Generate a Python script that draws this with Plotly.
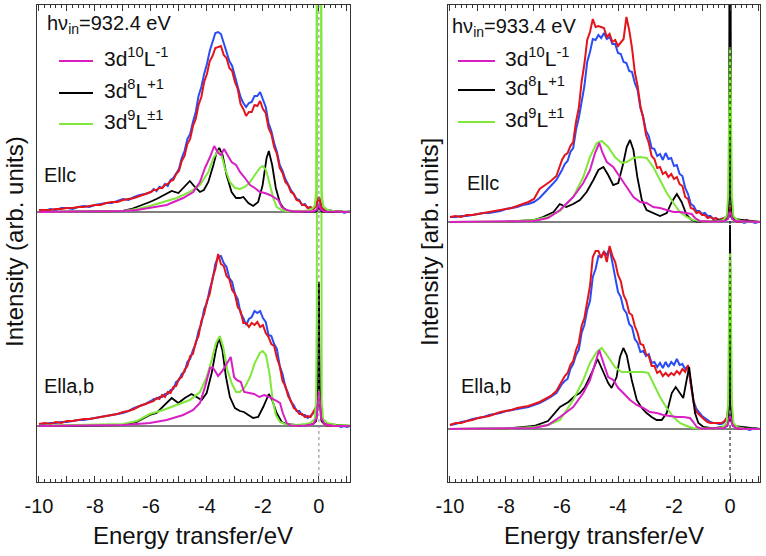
import numpy as np
import plotly.graph_objects as go

# ---------------- experimental energy grid (eV) ----------------
E_EXP = np.round(np.concatenate([np.arange(-10.0, -6.05, 0.2), np.arange(-6.0, 1.15, 0.1)]), 2)

# ---------------- LEFT panel (hv_in = 932.4 eV) ----------------
# Ellc experimental (blue / red)
LC_BLUE = ([2, 1, 3, 2, 4, 4, 3, 5, 6, 5, 7, 8, 9, 9, 11, 13, 12, 15, 17, 18] +
           [20, 23, 21, 25, 24, 28, 26, 32, 34, 38,
            43, 54, 61, 73, 78, 90, 100, 116, 125, 138,
            148, 161, 169, 179, 180, 178, 169, 161, 151, 146,
            136, 127, 115, 109, 105, 109, 110, 116, 116, 120,
            113, 105, 89, 81, 69, 60, 47, 41, 33, 27,
            22, 18, 13, 12, 7, 8, 4, 5, 3, 6,
            15, 4, 2, 1, 2, 0, 1, 0, 1, -1, 0, 1])
LC_RED = ([2, 2, 2, 3, 3, 4, 4, 5, 5, 6, 7, 7, 9, 10, 10, 12, 13, 14, 16, 18] +
          [20, 22, 22, 24, 24, 27, 28, 31, 32, 38,
           41, 51, 56, 68, 73, 86, 93, 107, 115, 130,
           138, 151, 156, 164, 165, 166, 157, 154, 144, 141,
           130, 123, 108, 103, 96, 100, 100, 107, 106, 111,
           103, 99, 84, 78, 65, 58, 44, 39, 30, 27,
           20, 18, 12, 11, 7, 7, 4, 5, 3, 6,
           15, 4, 2, 1, 0, 1, 0, 1, 0, 0, 0, 0])
# Ella,b experimental
LA_BLUE = ([2, 2, 3, 3, 4, 4, 5, 6, 6, 7, 8, 9, 10, 11, 12, 13, 15, 18, 20, 22] +
           [25, 27, 27, 29, 29, 32, 32, 36, 37, 44,
            46, 52, 54, 64, 67, 76, 82, 95, 102, 117,
            123, 137, 146, 162, 169, 170, 163, 159, 148, 144,
            132, 127, 113, 108, 101, 107, 109, 115, 113, 115,
            108, 104, 91, 90, 82, 77, 60, 52, 39, 33,
            24, 21, 15, 15, 11, 11, 8, 10, 13, 19,
            40, 6, 2, 1, 0, 1, 0, 0, -1, 0, -1, 0])
LA_RED = ([2, 3, 2, 4, 3, 5, 5, 6, 7, 7, 8, 9, 10, 11, 12, 14, 15, 17, 20, 22] +
          [24, 25, 28, 27, 31, 29, 34, 33, 39, 40,
           47, 49, 56, 60, 70, 72, 84, 90, 105, 112,
           125, 132, 148, 157, 172, 162, 160, 150, 147, 136,
           132, 119, 115, 103, 103, 99, 103, 101, 104, 99,
           101, 93, 89, 82, 80, 68, 60, 45, 40, 30,
           25, 18, 16, 12, 12, 9, 10, 9, 14, 19,
           38, 5, 2, 0, 1, 0, 0, 1, 0, 0, 0, 0])

# Ellc calculations
LC_MAG_E = [-10, -8, -7, -6.5, -6.04, -5.44, -4.85, -4.49, -4.25, -4.07, -3.89, -3.74, -3.6, -3.5,
            -3.39, -3.24, -3.12, -2.96, -2.82, -2.64, -2.46, -2.29, -2.11, -1.93, -1.75, -1.57, -1.45,
            -1.33, -1.15, -0.92, -0.5, -0.2, -0.08, -0.03, 0, 0.03, 0.08, 0.2, 0.5, 1.1]
LC_MAG_I = [0, 0.3, 1, 2, 4, 7, 14, 20, 30, 44, 55, 66, 59, 57,
            63, 55, 50, 47, 40, 34, 27, 24, 20, 19, 17, 14, 12,
            5, 2, 0.5, 0.2, 0.5, 2, 5, 8, 5, 2, 0.5, 0.2, 0]
LC_BLK_E = [-10, -8, -7, -6.7, -6.4, -6.04, -5.8, -5.6, -5.26, -5.02, -4.8, -4.61, -4.43, -4.25, -4.11,
            -3.95, -3.77, -3.65, -3.56, -3.44, -3.3, -3.12, -2.96, -2.82, -2.7, -2.52, -2.35, -2.17,
            -2.01, -1.87, -1.79, -1.67, -1.54, -1.39, -1.27, -1.1, -0.7, -0.1, -0.03, 0, 0.03, 0.1, 1.1]
LC_BLK_I = [0, 0.2, 1, 3, 6, 10, 13, 16, 21, 19, 25, 31, 25, 20, 22,
            30, 47, 60, 64, 57, 37, 20, 14, 14, 15, 9, 6, 10,
            27, 54, 61, 47, 24, 9, 4, 1, 0.3, 0.5, 3, 8, 3, 0.5, 0]
LC_GRN_E = [-10, -8, -7, -6.5, -6.04, -5.56, -5.08, -4.61, -4.25, -3.95, -3.77, -3.6, -3.48, -3.36,
            -3.18, -3.0, -2.82, -2.64, -2.46, -2.29, -2.11, -2.01, -1.89, -1.75, -1.63, -1.51, -1.33,
            -1.15, -0.6, -0.3, -0.15, -0.1, -0.075, -0.06, 0, 0.06, 0.075, 0.1, 0.15, 0.3, 0.6, 1.1]
LC_GRN_I = [0, 0.3, 1, 3, 6, 10, 14, 20, 27, 40, 54, 61, 57, 44,
            30, 24, 23, 25, 30, 37, 44, 46, 42, 27, 14, 5, 2,
            0.8, 0.8, 2, 6, 20, 100, 500, 1000, 500, 100, 20, 6, 2, 0.8, 0.3]

# Ella,b calculations
LA_MAG_E = [-10, -8, -7, -6.5, -6.04, -5.44, -4.85, -4.49, -4.25, -4.07, -3.89, -3.8, -3.68, -3.6,
            -3.45, -3.3, -3.15, -3.03, -2.94, -2.79, -2.67, -2.49, -2.31, -2.13, -1.95, -1.77, -1.58,
            -1.39, -1.29, -1.15, -1.0, -0.5, -0.2, -0.08, -0.03, 0, 0.03, 0.08, 0.2, 0.5, 1.1]
LA_MAG_I = [0, 0.3, 1, 2, 3, 6, 11, 16, 23, 39, 58, 59, 53, 50,
            55, 62, 69, 49, 46, 44, 34, 33, 32, 29, 31, 29, 26,
            23, 13, 3, 0.5, 0.3, 2, 8, 25, 35, 25, 8, 2, 0.3, 0]
LA_BLK_E = [-10, -8, -7, -6.5, -6.04, -5.8, -5.5, -5.26, -5.02, -4.79, -4.55, -4.37, -4.19, -4.01,
            -3.83, -3.68, -3.57, -3.45, -3.32, -3.18, -3.0, -2.82, -2.68, -2.52, -2.35, -2.17, -1.99,
            -1.79, -1.67, -1.51, -1.33, -1.15, -0.7, -0.2, -0.1, -0.04, -0.015, 0, 0.015, 0.04, 0.1, 0.2, 1.1]
LA_BLK_I = [0, 0.2, 1, 4, 11, 13, 21, 28, 23, 28, 32, 29, 26, 33,
            53, 76, 88, 76, 49, 29, 18, 15, 14, 11, 8, 9, 19,
            32, 26, 13, 4, 2, 0.5, 2, 5, 20, 80, 144, 80, 20, 5, 2, 0]
LA_GRN_E = [-10, -8, -7, -6.5, -6.04, -5.56, -5.08, -4.61, -4.25, -4.01, -3.83, -3.68, -3.54, -3.42,
            -3.27, -3.12, -2.96, -2.82, -2.64, -2.46, -2.29, -2.11, -2.01, -1.89, -1.77, -1.65, -1.54,
            -1.39, -1.21, -0.8, -0.5, -0.3, -0.15, -0.1, -0.075, -0.06, 0, 0.06, 0.075, 0.1, 0.15, 0.3, 0.6, 1.1]
LA_GRN_I = [0.3, 1, 2, 5, 12, 16, 21, 26, 34, 49, 66, 83, 90, 79,
            56, 43, 34, 34, 39, 49, 63, 73, 75, 71, 53, 26, 11,
            4, 2, 1, 2, 3, 7, 25, 120, 800, 3000, 800, 120, 25, 7, 3, 1, 0.5]

# ---------------- RIGHT panel (hv_in = 933.4 eV) ----------------
RC_BLUE = ([5, 5, 6, 6, 7, 8, 9, 9, 10, 11, 13, 14, 15, 17, 18, 20, 24, 30, 36, 42] +
           [52, 58, 61, 70, 74, 92, 104, 122, 136, 160,
            170, 183, 182, 187, 184, 189, 183, 185, 178, 178,
            169, 168, 160, 159, 151, 150, 139, 132, 114, 105,
            91, 86, 74, 73, 66, 68, 62, 69, 63, 64,
            56, 57, 48, 46, 34, 28, 18, 16, 11, 11,
            8, 9, 6, 6, 3, 4, 2, 3, 4, 5,
            15, 3, 1, 0, 1, -1, 0, 1, 0, -1, 0, 0])
RC_RED = ([5, 6, 5, 7, 7, 8, 9, 10, 11, 12, 13, 14, 16, 18, 20, 23, 33, 37, 41, 46] +
          [62, 67, 69, 76, 80, 100, 114, 140, 158, 182,
           190, 203, 195, 196, 195, 194, 185, 188, 180, 182,
           176, 179, 183, 205, 192, 174, 150, 136, 116, 104,
           87, 79, 66, 63, 54, 55, 48, 50, 45, 48,
           43, 45, 38, 36, 25, 23, 14, 13, 9, 10,
           7, 7, 4, 5, 3, 4, 2, 3, 4, 6,
           15, 3, 1, 0, 1, 0, 2, 0, 1, 0, 0, 0])
RA_BLUE = ([4, 5, 7, 8, 10, 11, 12, 14, 15, 16, 18, 19, 20, 21, 22, 24, 26, 29, 32, 36] +
           [45, 48, 50, 60, 65, 74, 79, 96, 104, 119,
            128, 152, 160, 173, 172, 177, 174, 181, 166, 152,
            137, 132, 120, 116, 105, 102, 90, 86, 77, 78,
            73, 75, 66, 67, 62, 66, 61, 67, 62, 67,
            64, 70, 64, 65, 60, 63, 45, 28, 20, 16,
            13, 11, 9, 7, 6, 6, 5, 5, 7, 12,
            40, 6, 2, 1, 0, 1, 0, -1, 0, 1, 0, 0])
RA_RED = ([4, 6, 6, 8, 9, 11, 12, 13, 15, 17, 18, 19, 21, 22, 23, 25, 27, 30, 33, 38] +
          [48, 53, 56, 64, 68, 79, 86, 103, 111, 127,
           143, 172, 178, 178, 171, 178, 167, 183, 173, 167,
           154, 148, 134, 128, 116, 114, 103, 96, 85, 84,
           75, 73, 63, 63, 56, 58, 53, 56, 53, 56,
           54, 58, 55, 60, 57, 64, 47, 26, 17, 14,
           12, 9, 7, 6, 6, 6, 6, 6, 8, 12,
           40, 5, 1, 0, 1, 0, 0, 1, 0, 0, 0, 0])

RC_MAG_E = [-10, -8, -7, -6.5, -6.07, -5.6, -5.24, -5.0, -4.82, -4.67, -4.55, -4.4, -4.17, -3.93,
            -3.69, -3.45, -3.21, -2.98, -2.74, -2.5, -2.26, -2.02, -1.79, -1.55, -1.37, -1.25, -1.07,
            -0.6, -0.2, -0.08, -0.03, 0, 0.03, 0.08, 0.2, 0.6, 1.1]
RC_MAG_I = [0, 0.5, 1, 4, 12, 25, 39, 52, 69, 79, 69, 60, 55, 45,
            35, 25, 20, 19, 15, 14, 12, 10, 10, 9, 8, 4, 1,
            0.3, 1, 3, 8, 12, 8, 3, 1, 0.3, 0]
RC_BLK_E = [-10, -8, -7, -6.68, -6.3, -6.08, -5.85, -5.6, -5.36, -5.12, -4.88, -4.7, -4.52, -4.35,
            -4.17, -3.99, -3.81, -3.69, -3.57, -3.45, -3.31, -3.15, -2.98, -2.74, -2.5, -2.26, -2.08,
            -1.9, -1.73, -1.55, -1.37, -1.19, -0.7, -0.1, -0.04, -0.025, 0, 0.025, 0.04, 0.1, 1.1]
RC_BLK_I = [0, 0.3, 2, 5, 10, 18, 15, 18, 22, 30, 42, 52, 55, 47,
            37, 39, 59, 75, 82, 72, 45, 22, 12, 9, 6, 9, 20,
            28, 20, 7, 2, 0.5, 0.3, 3, 20, 200, 3000, 200, 20, 3, 0]
RC_GRN_E = [-10, -8, -7, -6.5, -6.07, -5.6, -5.24, -5.0, -4.76, -4.58, -4.35, -4.11, -3.87, -3.69,
            -3.45, -3.21, -2.98, -2.74, -2.5, -2.26, -2.02, -1.79, -1.55, -1.31, -0.95, -0.5, -0.25,
            -0.12, -0.07, -0.045, -0.02, 0, 0.02, 0.045, 0.07, 0.12, 0.25, 0.5, 1.1]
RC_GRN_I = [0, 0.5, 2, 5, 11, 25, 45, 65, 79, 81, 75, 65, 59, 60,
            64, 65, 64, 55, 42, 29, 19, 10, 5, 2, 0.5, 0.5, 2,
            6, 25, 90, 150, 175, 150, 90, 25, 6, 2, 0.5, 0.2]

RA_MAG_E = [-10, -8, -7, -6.5, -6.07, -5.6, -5.24, -5.0, -4.82, -4.67, -4.52, -4.35, -4.17, -3.99,
            -3.81, -3.57, -3.33, -3.1, -2.86, -2.62, -2.38, -2.14, -1.9, -1.67, -1.43, -1.31, -1.19,
            -1.01, -0.5, -0.2, -0.08, -0.03, 0, 0.03, 0.08, 0.2, 0.5, 1.1]
RA_MAG_I = [0, 0.5, 1, 4, 12, 22, 36, 49, 66, 79, 66, 52, 49, 41,
            36, 29, 24, 21, 17, 16, 14, 13, 12, 12, 11, 7, 2,
            0.3, 0.3, 1, 4, 10, 14, 10, 4, 1, 0.3, 0]
RA_BLK_E = [-10, -8, -7, -6.5, -6.07, -5.77, -5.54, -5.36, -5.18, -4.94, -4.73, -4.52, -4.35, -4.23,
            -4.05, -3.93, -3.81, -3.69, -3.51, -3.33, -3.15, -2.98, -2.8, -2.62, -2.44, -2.26, -2.08,
            -1.94, -1.79, -1.67, -1.55, -1.46, -1.37, -1.25, -1.13, -0.95, -0.6, -0.1, -0.04, -0.02,
            0, 0.02, 0.04, 0.1, 1.1]
RA_BLK_I = [0, 0.5, 3, 8, 22, 27, 33, 36, 42, 56, 70, 56, 46, 41,
            52, 72, 81, 74, 49, 29, 21, 16, 12, 9, 9, 16, 36,
            42, 36, 31, 49, 62, 42, 16, 6, 2, 0.5, 3, 20, 120,
            204, 120, 20, 3, 0]
RA_GRN_E = [-10, -8, -7, -6.5, -6.07, -5.6, -5.24, -5.0, -4.76, -4.58, -4.35, -4.11, -3.87, -3.63,
            -3.39, -3.1, -2.92, -2.74, -2.5, -2.26, -2.02, -1.79, -1.55, -1.31, -1.0, -0.5, -0.25,
            -0.12, -0.07, -0.045, -0.02, 0, 0.02, 0.045, 0.07, 0.12, 0.25, 0.5, 1.1]
RA_GRN_I = [0, 0.5, 2, 4, 9, 29, 49, 66, 77, 81, 72, 62, 57, 57,
            57, 57, 56, 46, 32, 21, 12, 6, 3, 1, 0.5, 0.5, 2,
            6, 25, 90, 150, 176, 150, 90, 25, 6, 2, 0.5, 0.2]

# vertical offsets of the Ellc spectra above the Ella,b spectra
OFFSET_LEFT = 214
OFFSET_RIGHT = 207

TICK_VALS = list(range(-10, 2))
TICK_TEXT = [str(v) if v % 2 == 0 else "" for v in TICK_VALS]

BLUE, RED = "#2a4cf5", "#e3141b"
MAG, BLK, GRN = "#d91fc4", "#000000", "#80e83a"
FONT = "Liberation Sans, Arial, Helvetica, sans-serif"

W, H = 766, 556
ML, MR, MT, MB = 37, 6, 5, 74
PW, PH = W - ML - MR, H - MT - MB


def px(x):
    return (x - ML) / PW


def py(y):
    return (H - MB - y) / PH


fig = go.Figure()


def add(x, y, color, xa, ya, width=2.0):
    fig.add_trace(go.Scatter(x=x, y=y, mode="lines", xaxis=xa, yaxis=ya,
                             line=dict(color=color, width=width), showlegend=False,
                             hoverinfo="skip"))


def off(vals, o):
    return [v + o for v in vals]


# left panel: Ella,b (lower) then Ellc (upper)
add(E_EXP, LA_BLUE, BLUE, "x", "y")
add(E_EXP, LA_RED, RED, "x", "y")
add(LA_BLK_E, LA_BLK_I, BLK, "x", "y", 1.8)
add(LA_GRN_E, LA_GRN_I, GRN, "x", "y")
add(LA_MAG_E, LA_MAG_I, MAG, "x", "y")
add(E_EXP, off(LC_BLUE, OFFSET_LEFT), BLUE, "x", "y")
add(E_EXP, off(LC_RED, OFFSET_LEFT), RED, "x", "y")
add(LC_BLK_E, off(LC_BLK_I, OFFSET_LEFT), BLK, "x", "y", 1.8)
add(LC_GRN_E, off(LC_GRN_I, OFFSET_LEFT), GRN, "x", "y")
add(LC_MAG_E, off(LC_MAG_I, OFFSET_LEFT), MAG, "x", "y")

# right panel
add(E_EXP, RA_BLUE, BLUE, "x2", "y2")
add(E_EXP, RA_RED, RED, "x2", "y2")
add(RA_BLK_E, RA_BLK_I, BLK, "x2", "y2", 1.8)
add(RA_GRN_E, RA_GRN_I, GRN, "x2", "y2")
add(RA_MAG_E, RA_MAG_I, MAG, "x2", "y2")
add(E_EXP, off(RC_BLUE, OFFSET_RIGHT), BLUE, "x2", "y2")
add(E_EXP, off(RC_RED, OFFSET_RIGHT), RED, "x2", "y2")
add(RC_BLK_E, off(RC_BLK_I, OFFSET_RIGHT), BLK, "x2", "y2", 1.8)
add(RC_GRN_E, off(RC_GRN_I, OFFSET_RIGHT), GRN, "x2", "y2")
add(RC_MAG_E, off(RC_MAG_I, OFFSET_RIGHT), MAG, "x2", "y2")

xcommon = dict(showline=True, linecolor="#333", linewidth=1, mirror="allticks",
               ticks="inside", ticklen=6, tickwidth=1, tickcolor="#333",
               tickvals=TICK_VALS, ticktext=TICK_TEXT,
               minor=dict(dtick=0.2, ticks="inside", ticklen=3, tickcolor="#333", tickwidth=1),
               showgrid=False, zeroline=False, tickfont=dict(size=20, color="#111"),
               ticklabelstandoff=6)
ycommon = dict(showline=True, linecolor="#333", linewidth=1, mirror=True, ticks="",
               showticklabels=False, showgrid=False, zeroline=False)

fig.update_layout(
    width=W, height=H, margin=dict(l=ML, r=MR, t=MT, b=MB),
    paper_bgcolor="white", plot_bgcolor="white",
    font=dict(family=FONT, color="#111"),
    xaxis=dict(domain=[0, px(350)], range=[-10.07, 1.11], anchor="y", **xcommon),
    xaxis2=dict(domain=[px(448), 1], range=[-10.07, 1.07], anchor="y2", **xcommon),
    yaxis=dict(domain=[0, 1], range=[-56, 421], anchor="x", **ycommon),
    yaxis2=dict(domain=[0, 1], range=[-53, 424], anchor="x2", **ycommon),
)

shapes = []
# baselines
for yref, o in (("y", 0), ("y", OFFSET_LEFT), ("y2", 0), ("y2", OFFSET_RIGHT)):
    xr = "x domain" if yref == "y" else "x2 domain"
    shapes.append(dict(type="line", xref=xr, yref=yref, x0=0, x1=1, y0=o, y1=o,
                       line=dict(color="black", width=1), layer="below"))
# zero-loss markers
shapes.append(dict(type="line", xref="x", yref="y domain", x0=0, x1=0, y0=0, y1=1,
                   line=dict(color="#888", width=1, dash="dot"), layer="above"))
shapes.append(dict(type="line", xref="x2", yref="y2 domain", x0=0, x1=0, y0=0, y1=1,
                   line=dict(color="black", width=1, dash="dot"), layer="above"))

annotations = []


def text(x, y, s, size, xanchor="left", angle=0):
    annotations.append(dict(x=px(x), y=py(y), xref="paper", yref="paper", text=s,
                            showarrow=False, xanchor=xanchor, yanchor="middle",
                            textangle=angle, font=dict(size=size, family=FONT, color="#111")))


LEGEND_LABELS = ["3d<sup>10</sup>L<sup>-1</sup>", "3d<sup>8</sup>L<sup>+1</sup>", "3d<sup>9</sup>L<sup>±1</sup>"]
LEGEND_COLORS = [MAG, BLK, GRN]
for (lx0, lx1, tx, ys) in ((59, 93, 102, (61, 93, 124)), (458, 495, 503, (61, 90, 122))):
    for lab, col, yy in zip(LEGEND_LABELS, LEGEND_COLORS, ys):
        shapes.append(dict(type="line", xref="paper", yref="paper", x0=px(lx0), x1=px(lx1),
                           y0=py(yy), y1=py(yy), line=dict(color=col, width=2)))
        text(tx, yy - 4, lab, 21)

text(45, 25, "hν<sub>in</sub>=932.4 eV", 20)
text(450, 27, "hν<sub>in</sub>=933.4 eV", 20)
text(42, 175, "Ellc", 20)
text(42, 386, "Ella,b", 20)
text(465, 183, "Ellc", 20)
text(459, 386, "Ella,b", 20)
text(193, 535, "Energy transfer/eV", 24, "center")
text(604, 535, "Energy transfer/eV", 24, "center")
text(14, 242, "Intensity (arb. units)", 24, "center", -90)
text(429, 242, "Intensity [arb. units]", 24, "center", -90)

fig.update_layout(shapes=shapes, annotations=annotations)
fig.write_html("out.html", config={"displayModeBar": False},
               post_script="document.body.style.margin='0';")
